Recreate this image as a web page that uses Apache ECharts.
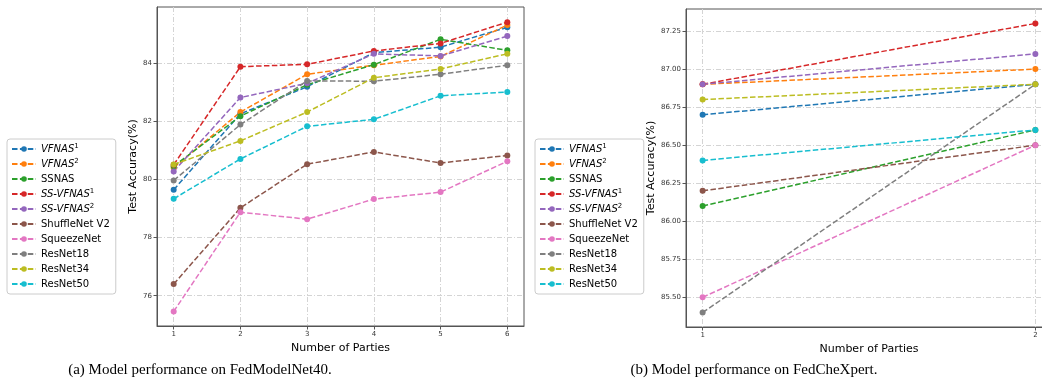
<!DOCTYPE html>
<html>
<head>
<meta charset="utf-8">
<script src="https://cdn.jsdelivr.net/npm/echarts@6/dist/echarts.min.js"></script>
<style>html,body{margin:0;padding:0;background:#fff}#c{width:1042px;height:390px}</style>
</head>
<body>
<div id="c"></div>
<script>
// ---- data ----
const seriesNames = ['VFNAS1','VFNAS2','SSNAS','SS-VFNAS1','SS-VFNAS2','ShuffleNet V2','SqueezeNet','ResNet18','ResNet34','ResNet50'];
const colors = ['#1f77b4','#ff7f0e','#2ca02c','#d62728','#9467bd','#8c564b','#e377c2','#7f7f7f','#bcbd22','#17becf'];

// (a) FedModelNet40
const partiesA = [1, 2, 3, 4, 5, 6];
const vfnas1A    = [79.64, 82.25, 83.18, 84.35, 84.54, 85.22];
const vfnas2A    = [80.40, 82.31, 83.61, 83.92, 84.22, 85.30];
const ssnasA     = [80.45, 82.17, 83.25, 83.94, 84.81, 84.43];
const ssvfnas1A  = [80.50, 83.87, 83.95, 84.41, 84.67, 85.40];
const ssvfnas2A  = [80.27, 82.81, 83.30, 84.31, 84.24, 84.92];
const shuffleA   = [76.40, 79.02, 80.52, 80.94, 80.56, 80.82];
const squeezeA   = [75.46, 78.87, 78.63, 79.32, 79.56, 80.62];
const resnet18A  = [79.96, 81.88, 83.38, 83.37, 83.61, 83.92];
const resnet34A  = [80.51, 81.32, 82.31, 83.49, 83.79, 84.31];
const resnet50A  = [79.33, 80.70, 81.82, 82.06, 82.87, 83.00];
const ticksAX = [1, 2, 3, 4, 5, 6];
const ticksAY = [76, 78, 80, 82, 84];

// (b) FedCheXpert
const partiesB = [1, 2];
const vfnas1B    = [86.70, 86.90];
const vfnas2B    = [86.90, 87.00];
const ssnasB     = [86.10, 86.60];
const ssvfnas1B  = [86.90, 87.30];
const ssvfnas2B  = [86.90, 87.10];
const shuffleB   = [86.20, 86.50];
const squeezeB   = [85.50, 86.50];
const resnet18B  = [85.40, 86.90];
const resnet34B  = [86.80, 86.90];
const resnet50B  = [86.40, 86.60];
const ticksBX = [1, 2];
const ticksBY = [85.5, 85.75, 86.0, 86.25, 86.5, 86.75, 87.0, 87.25];

const captionA = '(a) Model performance on FedModelNet40.';
const captionB = '(b) Model performance on FedCheXpert.';

// ---- build ----
const valsA = [vfnas1A, vfnas2A, ssnasA, ssvfnas1A, ssvfnas2A, shuffleA, squeezeA, resnet18A, resnet34A, resnet50A];
const valsB = [vfnas1B, vfnas2B, ssnasB, ssvfnas1B, ssvfnas2B, shuffleB, squeezeB, resnet18B, resnet34B, resnet50B];

const FONT = 'DejaVu Sans';
function mkSeries(vals, xs, idx) {
  return vals.map((v, i) => ({
    name: seriesNames[i],
    type: 'line',
    xAxisIndex: idx, yAxisIndex: idx,
    data: v.map((y, j) => [xs[j], y]),
    symbol: 'circle', symbolSize: 6,
    lineStyle: { color: colors[i], width: 1.5, type: [5.5, 2.4] },
    itemStyle: { color: colors[i] },
    emphasis: { disabled: true },
    animation: false
  }));
}

function xAxis(idx, min, max, ticks, nameGap) {
  return {
    type: 'value', gridIndex: idx, min: min, max: max,
    name: 'Number of Parties', nameLocation: 'middle', nameGap: nameGap,
    nameTextStyle: { fontFamily: FONT, fontSize: 11, color: '#000' },
    axisLine: { show: true, onZero: false, lineStyle: { color: '#555', width: 1 } },
    axisTick: { show: true, length: 3.5, customValues: ticks, lineStyle: { color: '#555' } },
    axisLabel: { customValues: ticks, fontFamily: FONT, fontSize: 7, color: '#333', margin: 5 },
    splitLine: { show: true, lineStyle: { color: '#d4d4d4', width: 1, type: [5, 2, 1, 2] } }
  };
}
function yAxis(idx, min, max, ticks, nameGap, fmt) {
  return {
    type: 'value', gridIndex: idx, min: min, max: max,
    name: 'Test Accuracy(%)', nameLocation: 'middle', nameGap: nameGap, nameRotate: 90,
    nameTextStyle: { fontFamily: FONT, fontSize: 11, color: '#000' },
    axisLine: { show: true, onZero: false, lineStyle: { color: '#555', width: 1 } },
    axisTick: { show: true, length: 3.5, customValues: ticks, lineStyle: { color: '#555' } },
    axisLabel: { customValues: ticks, fontFamily: FONT, fontSize: 7, color: '#333', margin: 5, formatter: fmt },
    splitLine: { show: true, lineStyle: { color: '#d4d4d4', width: 1, type: [5, 2, 1, 2] } }
  };
}

function legendFmt(name) {
  if (name === 'VFNAS1') return '{i|VFNAS}{s|1}';
  if (name === 'VFNAS2') return '{i|VFNAS}{s|2}';
  if (name === 'SS-VFNAS1') return '{i|SS-VFNAS}{s|1}';
  if (name === 'SS-VFNAS2') return '{i|SS-VFNAS}{s|2}';
  return '{n|' + name + '}';
}
function legend(left) {
  return {
    orient: 'vertical', left: left, top: 139,
    data: seriesNames,
    itemWidth: 24, itemHeight: 7, itemGap: 3,
    padding: [4, 6, 4, 4],
    backgroundColor: '#fff', borderColor: '#ccc', borderWidth: 1, borderRadius: 3,
    formatter: legendFmt,
    selectedMode: false,
    textStyle: {
      fontFamily: FONT, fontSize: 10, color: '#000', lineHeight: 12,
      rich: {
        i: { fontFamily: FONT, fontSize: 10, fontStyle: 'italic', color: '#000', lineHeight: 12 },
        s: { fontFamily: FONT, fontSize: 7, color: '#000', lineHeight: 12, padding: [0, 0, 5, 0] },
        n: { fontFamily: FONT, fontSize: 10, color: '#000', lineHeight: 12 }
      }
    }
  };
}

const chart = echarts.init(document.getElementById('c'), null, { renderer: 'canvas' });
chart.setOption({
  animation: false,
  backgroundColor: '#fff',
  title: [
    { text: captionA, left: 200, top: 363, textAlign: 'center', padding: 0,
      textStyle: { fontFamily: 'Liberation Serif', fontSize: 15, fontWeight: 'normal', color: '#000' } },
    { text: captionB, left: 754, top: 363, textAlign: 'center', padding: 0,
      textStyle: { fontFamily: 'Liberation Serif', fontSize: 15, fontWeight: 'normal', color: '#000' } }
  ],
  grid: [
    { left: 157, top: 7, width: 367, height: 319, show: true, borderColor: '#555', borderWidth: 1, containLabel: false, outerBoundsMode: 'none' },
    { left: 686, top: 9, width: 366, height: 318, show: true, borderColor: '#555', borderWidth: 1, containLabel: false, outerBoundsMode: 'none' }
  ],
  xAxis: [ xAxis(0, 0.75, 6.25, ticksAX, 15), xAxis(1, 0.95, 2.05, ticksBX, 14) ],
  yAxis: [
    yAxis(0, 74.96, 85.92, ticksAY, 18, v => String(Math.round(v))),
    yAxis(1, 85.305, 87.395, ticksBY, 29, v => v.toFixed(2))
  ],
  legend: [ legend(7), legend(535) ],
  series: mkSeries(valsA, partiesA, 0).concat(mkSeries(valsB, partiesB, 1))
});
</script>
</body>
</html>
